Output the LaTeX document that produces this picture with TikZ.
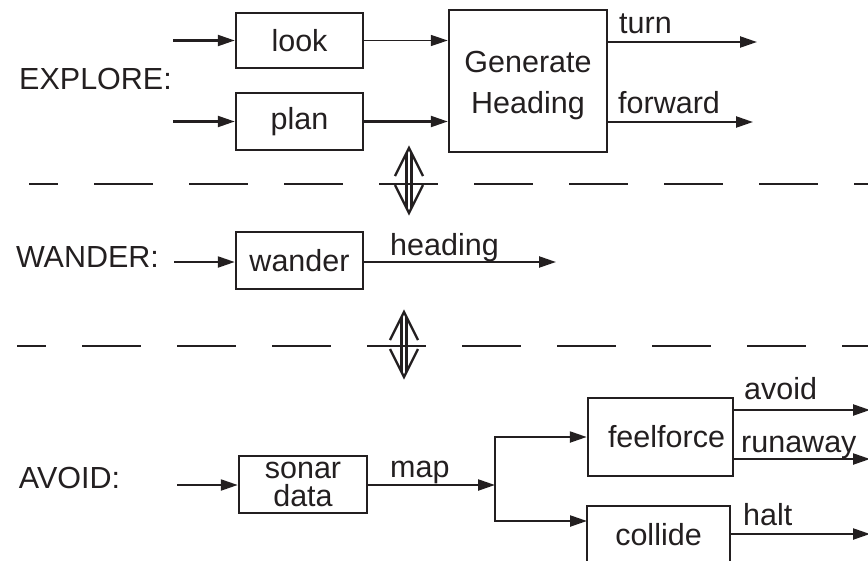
\documentclass[tikz,border=0pt]{standalone}
\usepackage{fontspec}
\setmainfont{Liberation Sans}
\usetikzlibrary{arrows.meta}
\definecolor{ink}{RGB}{35,31,32}
\begin{document}
\begin{tikzpicture}[x=1pt,y=-1pt,
  every node/.style={text=ink, font=\fontsize{30.5}{34}\selectfont},
  box/.style={draw=ink, line width=2.5pt, rectangle, inner sep=0pt},
  arr/.style={draw=ink, line width=2.3pt, -{Triangle[length=17pt,width=11pt]}},
  lbl/.style={anchor=base west, inner sep=0pt},
  sep/.style={draw=ink, line width=2.3pt, dash pattern=on 59pt off 36pt, dash phase=30pt},
  dbl/.style={draw=ink, line width=2.4pt}]
\useasboundingbox (0,0) rectangle (868,560);
\clip (0,0) rectangle (868,560);
% boxes
\node[box, minimum width=127pt, minimum height=55pt] (look) at (299.5,40.5) {look};
\node[box, minimum width=127pt, minimum height=57pt] (plan) at (299.5,121.5) {plan};
\node[box, minimum width=158pt, minimum height=142pt] (gen) at (528,81) {};
\node[align=center, font=\fontsize{30.5}{41}\selectfont] (gentext) at (528,86) {Generate\\Heading};
\node[box, minimum width=127pt, minimum height=57pt] (wander) at (299.5,260.5) {wander};
\node[box, minimum width=128pt, minimum height=57pt, align=center, font=\fontsize{30.5}{28}\selectfont] (sonar) at (303,484.5) {sonar\\data};
\node[box, minimum width=145pt, minimum height=78pt] (feel) at (660.5,437) {\hspace*{12pt}feelforce};
\node[box, minimum width=143pt, minimum height=58pt] (collide) at (658.5,535) {collide};
% layer labels
\node (explore) at (95.5,79) {EXPLORE:};
\node (wanderlbl) at (87.5,257) {WANDER:};
\node (avoidlbl) at (69.5,478) {AVOID:};
% free ends
\coordinate (lookin) at (173,40.5);
\coordinate (planin) at (173,121.5);
\coordinate (turnend) at (757,42);
\coordinate (fwdend) at (753,122);
\coordinate (wandin) at (174,262);
\coordinate (headend) at (556,262);
\coordinate (sonarin) at (177,485);
\coordinate (junc) at (495,485);
\coordinate (collin) at (587,521);
\coordinate (avoidend) at (870,410);
\coordinate (runend) at (870,459);
\coordinate (haltend) at (870,534);
% explore
\draw[arr] (lookin) -- (lookin -| look.west);
\draw[arr] (planin) -- (planin -| plan.west);
\draw[arr, line width=1.7pt] (look.east) -- (look.east -| gen.west);
\draw[arr] (plan.east) -- (plan.east -| gen.west);
\draw[arr] (gen.east |- turnend) -- (turnend);
\draw[arr] (gen.east |- fwdend) -- (fwdend);
\node[lbl] (turnl) at (619,33) {turn};
\node[lbl] (fwdl) at (618,113) {forward};
% wander
\draw[arr] (wandin) -- (wandin -| wander.west);
\draw[arr] (wander.east |- headend) -- (headend);
\node[lbl] (headl) at (390,255) {heading};
% avoid
\draw[arr] (sonarin) -- (sonarin -| sonar.west);
\draw[arr] (sonar.east |- junc) -- (junc);
\draw[arr] (junc) |- (feel.west);
\draw[arr] (junc) |- (collin);
\draw[arr] (feel.east |- avoidend) -- (avoidend);
\draw[arr] (feel.east |- runend) -- (runend);
\draw[arr] (collide.east |- haltend) -- (haltend);
\node[lbl] (mapl) at (390,477) {map};
\node[lbl] (avoidl) at (744,399) {avoid};
\node[lbl] (runl) at (741,452) {runaway};
\node[lbl] (haltl) at (743,525) {halt};
% separators
\draw[sep] (29,184) -- (870,184);
\draw[sep] (17,346) -- (870,346);
% double arrows
\foreach \cx/\cy in {409/148, 404/312} {
  \begin{scope}[shift={(\cx,\cy)}]
    \draw[dbl] (-14,28) -- (0,0) -- (14,28);
    \draw[dbl] (-14,37) -- (0,65) -- (14,37);
    \draw[dbl] (-2.5,5) -- (-2.5,60);
    \draw[dbl] (2.5,5) -- (2.5,60);
  \end{scope}
}
\end{tikzpicture}
\end{document}
